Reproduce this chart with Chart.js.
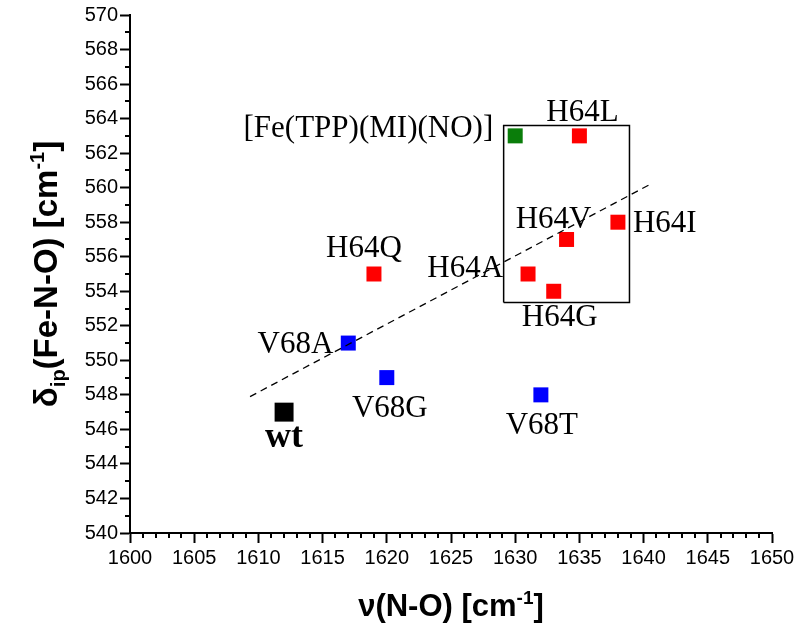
<!DOCTYPE html>
<html>
<head>
<meta charset="utf-8">
<script src="https://cdn.jsdelivr.net/npm/chart.js@4.4.0/dist/chart.umd.min.js"></script>
<style>
  body { margin: 0; background: #fff; }
  #wrap { width: 800px; height: 634px; position: relative; }
</style>
</head>
<body>
<div id="wrap"><canvas id="chart"></canvas></div>
<script>
// ==== Data ====
const wtNames = ['wt'];
const wtX = [1612];
const wtY = [547];

const v68Names = ['V68A', 'V68G', 'V68T'];
const v68X = [1617, 1620, 1632];
const v68Y = [551, 549, 548];

const h64Names = ['H64Q', 'H64A', 'H64G', 'H64V', 'H64I', 'H64L'];
const h64X = [1619, 1631, 1633, 1634, 1638, 1635];
const h64Y = [555, 555, 554, 557, 558, 563];

const modelNames = ['[Fe(TPP)(MI)(NO)]'];
const modelX = [1630];
const modelY = [563];

// dashed correlation line (end points)
const fitX = [1609.35, 1640.4];
const fitY = [547.9, 560.15];

// box around the H64 group
const boxX = [1629.1, 1638.9];
const boxY = [553.35, 563.6];

const xTicks = [1600, 1650, 5];
const yTicks = [540, 570, 2];

// ==== Label placement (pixel offsets from the point) ====
const labelPos = {
    'wt': { dx: 0, dy: 35, align: 'center', bold: true },
    'V68A': { dx: -15, dy: 10, align: 'right' },
    'V68G': { dx: 3, dy: 39, align: 'center' },
    'V68T': { dx: 1, dy: 39, align: 'center' },
    'H64Q': { dx: -10, dy: -17, align: 'center' },
    'H64A': { dx: -25, dy: 3, align: 'right' },
    'H64G': { dx: 6, dy: 35, align: 'center' },
    'H64V': { dx: -13, dy: -11, align: 'center' },
    'H64I': { dx: 15, dy: 10, align: 'left' },
    'H64L': { dx: 3, dy: -15, align: 'center' },
    '[Fe(TPP)(MI)(NO)]': { dx: -22, dy: 1, align: 'right' }
};

function pts(xs, ys, names) {
    return xs.map((x, i) => ({ x, y: ys[i], name: names ? names[i] : null }));
}

const boxPoints = [
    { x: boxX[0], y: boxY[0] }, { x: boxX[1], y: boxY[0] },
    { x: boxX[1], y: boxY[1] }, { x: boxX[0], y: boxY[1] },
    { x: boxX[0], y: boxY[0] }
];

const SANS = "'Liberation Sans', Arial, sans-serif";
const SERIF = "'Liberation Serif', 'Times New Roman', serif";

// ==== Plugins ====
const minorTicks = {
    id: 'minorTicks',
    afterDraw(chart) {
        const ctx = chart.ctx;
        const xs = chart.scales.x, ys = chart.scales.y;
        const area = chart.chartArea;
        ctx.save();
        ctx.strokeStyle = '#000';
        ctx.lineWidth = 2;
        ctx.beginPath();
        for (let v = xTicks[0]; v <= xTicks[1]; v++) {
            if (v % xTicks[2] === 0) continue;
            const px = Math.round(xs.getPixelForValue(v));
            ctx.moveTo(px, area.bottom);
            ctx.lineTo(px, area.bottom + 5);
        }
        for (let v = yTicks[0]; v <= yTicks[1]; v++) {
            if (v % yTicks[2] === 0) continue;
            const py = Math.round(ys.getPixelForValue(v));
            ctx.moveTo(area.left, py);
            ctx.lineTo(area.left - 5, py);
        }
        ctx.stroke();
        ctx.restore();
    }
};

function drawRich(ctx, parts, cx, baseY) {
    let total = 0;
    parts.forEach(p => {
        ctx.font = `bold ${p.size}px ${SANS}`;
        p.w = ctx.measureText(p.t).width;
        total += p.w;
    });
    let x = cx - total / 2;
    ctx.textAlign = 'left';
    ctx.textBaseline = 'alphabetic';
    parts.forEach(p => {
        ctx.font = `bold ${p.size}px ${SANS}`;
        ctx.fillText(p.t, x, baseY + (p.dy || 0));
        x += p.w;
    });
}

const axisTitles = {
    id: 'axisTitles',
    afterDraw(chart) {
        const ctx = chart.ctx;
        const area = chart.chartArea;
        ctx.save();
        ctx.fillStyle = '#000';
        drawRich(ctx, [
            { t: 'ν(N-O) [cm', size: 31 },
            { t: '-1', size: 19, dy: -12 },
            { t: ']', size: 31 }
        ], (area.left + area.right) / 2, 616);

        ctx.translate(57, (area.top + area.bottom) / 2);
        ctx.rotate(-Math.PI / 2);
        drawRich(ctx, [
            { t: 'δ', size: 33 },
            { t: 'ip', size: 20, dy: 8 },
            { t: '(Fe-N-O) [cm', size: 33 },
            { t: '-1', size: 20, dy: -13 },
            { t: ']', size: 33 }
        ], 0, 0);
        ctx.restore();
    }
};

const pointLabels = {
    id: 'pointLabels',
    afterDatasetsDraw(chart) {
        const ctx = chart.ctx;
        ctx.save();
        ctx.fillStyle = '#000';
        ctx.textBaseline = 'alphabetic';
        chart.data.datasets.forEach((ds, di) => {
            if (!ds.labelled) return;
            const meta = chart.getDatasetMeta(di);
            meta.data.forEach((el, i) => {
                const name = ds.data[i].name;
                const lp = labelPos[name];
                if (!lp) return;
                ctx.font = lp.bold ? `bold 36px ${SERIF}` : `31px ${SERIF}`;
                ctx.textAlign = lp.align;
                ctx.fillText(name, el.x + lp.dx, el.y + lp.dy);
            });
        });
        ctx.restore();
    }
};

// ==== Chart ====
const squareStyle = (color, r) => ({
    type: 'scatter',
    pointStyle: 'rect',
    pointRadius: r,
    pointHoverRadius: r,
    pointBackgroundColor: color,
    pointBorderColor: color,
    pointBorderWidth: 0,
    showLine: false,
    labelled: true
});

new Chart(document.getElementById('chart'), {
    type: 'scatter',
    data: {
        datasets: [
            Object.assign({ data: pts(wtX, wtY, wtNames), order: 2 }, squareStyle('#000000', 13.4)),
            Object.assign({ data: pts(v68X, v68Y, v68Names), order: 2 }, squareStyle('#0000ff', 10.6)),
            Object.assign({ data: pts(h64X, h64Y, h64Names), order: 2 }, squareStyle('#ff0000', 10.6)),
            Object.assign({ data: pts(modelX, modelY, modelNames), order: 2 }, squareStyle('#0a7d0a', 10.6)),
            {
                type: 'line',
                data: pts(fitX, fitY),
                borderColor: '#000',
                borderWidth: 1.3,
                borderDash: [7, 5],
                pointRadius: 0,
                fill: false,
                order: 1
            },
            {
                type: 'line',
                data: boxPoints,
                borderColor: '#000',
                borderWidth: 1.5,
                pointRadius: 0,
                fill: false,
                tension: 0,
                order: 3
            }
        ]
    },
    options: {
        responsive: true,
        maintainAspectRatio: false,
        animation: false,
        events: [],
        layout: { padding: { left: 0, top: 15, right: 28, bottom: 0 } },
        plugins: {
            legend: { display: false },
            tooltip: { enabled: false }
        },
        scales: {
            x: {
                type: 'linear',
                min: xTicks[0],
                max: xTicks[1],
                afterFit: s => { s.height = 101; },
                ticks: {
                    stepSize: xTicks[2], color: '#000', padding: 3, maxRotation: 0,
                    font: { family: SANS, size: 20 },
                    callback: v => String(v)
                },
                grid: { drawOnChartArea: false, drawTicks: true, tickLength: 10, tickWidth: 2, color: '#000' },
                border: { display: true, color: '#000', width: 2 }
            },
            y: {
                type: 'linear',
                min: yTicks[0],
                max: yTicks[1],
                afterFit: s => { s.width = 130; },
                ticks: {
                    stepSize: yTicks[2], color: '#000', padding: 2,
                    font: { family: SANS, size: 20 },
                    callback: v => String(v)
                },
                grid: { drawOnChartArea: false, drawTicks: true, tickLength: 10, tickWidth: 2, color: '#000' },
                border: { display: true, color: '#000', width: 2 }
            }
        }
    },
    plugins: [minorTicks, axisTitles, pointLabels]
});
</script>
</body>
</html>
